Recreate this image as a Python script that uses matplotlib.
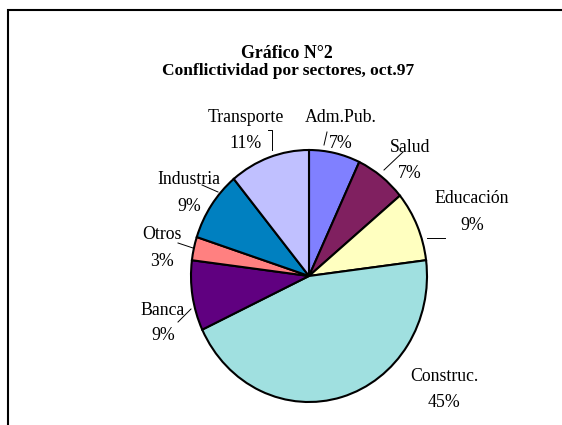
import matplotlib
matplotlib.use('Agg')
from matplotlib import pyplot as plt

plt.rcParams['font.family'] = ['Liberation Serif', 'DejaVu Serif']

# Data (clockwise from 12 o'clock)
sectors = ['Adm.Pub.', 'Salud', 'Educación', 'Construc.', 'Banca', 'Otros',
           'Industria', 'Transporte']
shares = [7, 7, 9, 45, 9, 3, 9, 11]
colors = ['#8080FF', '#802060', '#FFFFC0', '#A0E0E0', '#600080', '#FF8080',
          '#0080C0', '#C0C0FF']
title_lines = ['Gráfico N°2', 'Conflictividad por sectores, oct.97']

# Layout, in pixels from the top-left corner
W, H = 562, 425
pie_box = (191, 150, 236, 252)  # left, top, width, height
label_pos = {  # x centre, baseline of name, baseline of percent
    'Adm.Pub.': (341, 122, 148.5),
    'Salud': (410, 152, 178),
    'Educación': (472, 203, 230),
    'Construc.': (444, 381, 407),
    'Banca': (163, 315, 340),
    'Otros': (162, 239, 266),
    'Industria': (189, 184, 211),
    'Transporte': (246, 122, 148.5),
}
leaders = {
    'Adm.Pub.': [(327, 132), (324, 145)],
    'Salud': [(403, 152), (384, 170)],
    'Educación': [(445, 238), (427, 238)],
    'Banca': [(191, 309), (178, 322)],
    'Otros': [(178, 243), (193, 248)],
    'Industria': [(202, 185), (218, 192)],
    'Transporte': [(268, 130), (272, 130), (272, 150)],
}

fig = plt.figure(figsize=(W / 100, H / 100), dpi=100)

# pie axes (slightly taller than wide, like the original)
l, t, w, h = pie_box
ax = fig.add_axes([l / W, 1 - (t + h) / H, w / W, h / H])
ax.pie(shares, colors=colors, startangle=90, counterclock=False,
       wedgeprops=dict(edgecolor='black', linewidth=1.5))
ax.set_aspect('auto')
ax.set(xlim=(-1, 1), ylim=(-1, 1))
ax.axis('off')

# overlay in pixel coordinates for text, leaders and frame
ov = fig.add_axes([0, 0, 1, 1], facecolor='none')
ov.set(xlim=(0, W), ylim=(H, 0))
ov.axis('off')

ov.plot([8, 8, W + 5], [H + 5, 10, 10], color='black', lw=1.5,
        solid_joinstyle='miter', clip_on=False)

ov.text(287, 58, title_lines[0], ha='center', va='baseline',
        fontsize=12.8, fontweight='bold')
ov.text(288, 75, title_lines[1], ha='center', va='baseline',
        fontsize=12.5, fontweight='bold')

for name, pct in zip(sectors, shares):
    x, y1, y2 = label_pos[name]
    ov.text(x, y1, name, ha='center', va='baseline', fontsize=12.8)
    ov.text(x, y2, f'{pct}%', ha='center', va='baseline', fontsize=12.8)
    if name in leaders:
        xs, ys = zip(*leaders[name])
        ov.plot(xs, ys, color='black', lw=0.7)

fig.savefig('out.png', dpi=100)
